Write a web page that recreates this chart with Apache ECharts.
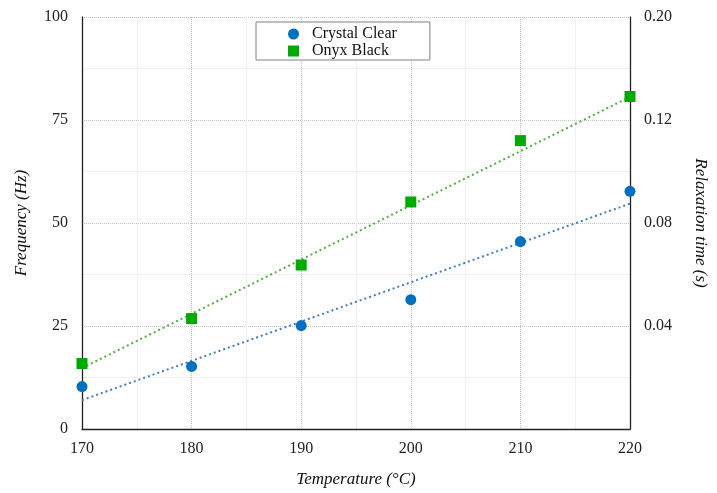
<!DOCTYPE html>
<html>
<head>
<meta charset="utf-8">
<script src="https://cdn.jsdelivr.net/npm/echarts@6/dist/echarts.min.js"></script>
<style>html,body{margin:0;padding:0;background:#fff}#c{width:717px;height:493px}</style>
</head>
<body>
<div id="c"></div>
<script>
const temperatures = [170, 180, 190, 200, 210, 220];
const crystalClear = [10.3, 15.2, 25.1, 31.4, 45.5, 57.7];
const onyxBlack = [15.9, 26.8, 39.8, 55.1, 70.0, 80.7];
const crystalTrendX = [170, 220];
const crystalTrendY = [7.0, 54.7];
const onyxTrendX = [170, 220];
const onyxTrendY = [14.8, 80.6];
const leftTicks = [0, 25, 50, 75, 100];
const rightTickLabels = ['', '0.04', '0.08', '0.12', '0.20'];

const FONT = '"Liberation Serif", "DejaVu Serif", serif';
const pair = (xs, ys) => xs.map((x, i) => [x, ys[i]]);

const chart = echarts.init(document.getElementById('c'), null, {renderer: 'canvas'});
chart.setOption({
  animation: false,
  backgroundColor: '#fff',
  grid: {left: 82, right: 81, top: 17, bottom: 61, containLabel: false},
  legend: {
    data: ['Crystal Clear', 'Onyx Black'],
    orient: 'vertical',
    left: 256, top: 22,
    padding: [4, 33, 1, 32],
    borderColor: '#808080', borderWidth: 1,
    backgroundColor: '#fff',
    itemWidth: 11, itemHeight: 11, itemGap: 1,
    itemStyle: {opacity: 1},
    textStyle: {fontFamily: FONT, fontSize: 16, color: '#111', padding: [0, 0, 0, 8]}
  },
  xAxis: {
    type: 'value', min: 170, max: 220, interval: 10,
    name: 'Temperature (°C)', nameLocation: 'middle', nameGap: 42,
    nameTextStyle: {fontFamily: FONT, fontSize: 17, fontStyle: 'italic', color: '#111'},
    axisLine: {show: true, lineStyle: {color: '#222', width: 1.3}},
    axisTick: {show: false},
    axisLabel: {fontFamily: FONT, fontSize: 16, color: '#222', margin: 12},
    splitLine: {show: true, lineStyle: {color: '#c4c4c4', type: 'dotted', width: 1}},
    minorTick: {show: false, splitNumber: 2},
    minorSplitLine: {show: true, lineStyle: {color: '#f0f0f0', width: 1}}
  },
  yAxis: [
    {
      type: 'value', min: leftTicks[0], max: leftTicks[leftTicks.length - 1], interval: 25,
      name: 'Frequency (Hz)', nameLocation: 'middle', nameGap: 52,
      nameTextStyle: {fontFamily: FONT, fontSize: 17, fontStyle: 'italic', color: '#111'},
      axisLine: {show: true, lineStyle: {color: '#222', width: 1.3}},
      axisTick: {show: false},
      axisLabel: {fontFamily: FONT, fontSize: 16, color: '#222', margin: 14},
      splitLine: {show: true, lineStyle: {color: '#c4c4c4', type: 'dotted', width: 1}},
      minorTick: {show: false, splitNumber: 2},
      minorSplitLine: {show: true, lineStyle: {color: '#f0f0f0', width: 1}}
    },
    {
      type: 'value', position: 'right', min: leftTicks[0], max: leftTicks[leftTicks.length - 1], interval: 25,
      name: 'Relaxation time (s)', nameLocation: 'middle', nameGap: 62, nameRotate: -90,
      nameTextStyle: {fontFamily: FONT, fontSize: 17, fontStyle: 'italic', color: '#111'},
      axisLine: {show: true, lineStyle: {color: '#222', width: 1.3}},
      axisTick: {show: false},
      axisLabel: {fontFamily: FONT, fontSize: 16, color: '#222', margin: 14,
        formatter: v => rightTickLabels[leftTicks.indexOf(v)] || ''},
      splitLine: {show: false}
    }
  ],
  series: [
    {
      name: 'Crystal Clear trend', type: 'line', data: pair(crystalTrendX, crystalTrendY),
      showSymbol: false, silent: true, z: 1,
      lineStyle: {color: '#3b7fbf', width: 2, type: [2, 3]}
    },
    {
      name: 'Onyx Black trend', type: 'line', data: pair(onyxTrendX, onyxTrendY),
      showSymbol: false, silent: true, z: 1,
      lineStyle: {color: '#4fae3f', width: 2, type: [2, 3]}
    },
    {
      name: 'Crystal Clear', type: 'scatter', data: pair(temperatures, crystalClear),
      symbol: 'circle', symbolSize: 11, z: 3,
      itemStyle: {color: '#0070c0', opacity: 1}
    },
    {
      name: 'Onyx Black', type: 'scatter', data: pair(temperatures, onyxBlack),
      symbol: 'rect', symbolSize: 11, z: 3,
      itemStyle: {color: '#00aa00', opacity: 1}
    }
  ]
});
</script>
</body>
</html>
